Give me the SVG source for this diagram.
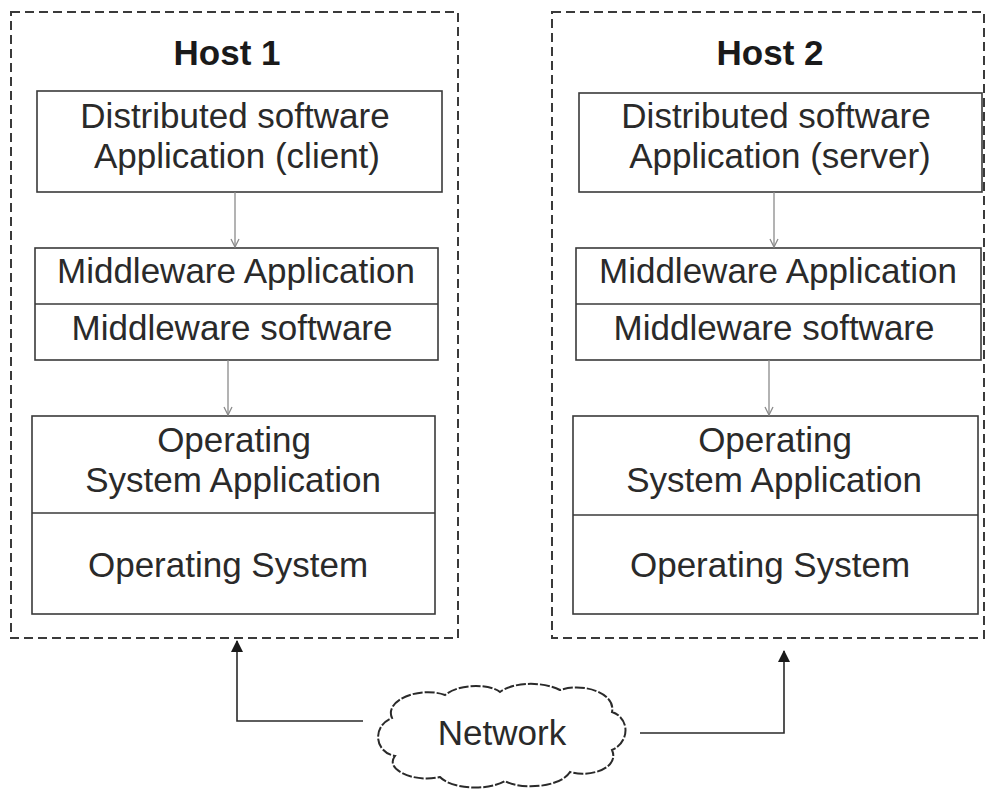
<svg xmlns="http://www.w3.org/2000/svg" width="991" height="789" viewBox="0 0 991 789">
<defs>
<style>
.host{fill:none;stroke:#3a3a3a;stroke-width:2;stroke-dasharray:9 5}
.box{fill:#fff;stroke:#3a3a3a;stroke-width:1.6}
.div{stroke:#3a3a3a;stroke-width:1.6}
.t{font-family:"Liberation Sans",Arial,sans-serif;font-size:35px;fill:#2a2a2a;text-anchor:middle}
.h{font-weight:bold;fill:#1a1a1a}
.inner{fill:none;stroke:#8a8a8a;stroke-width:1.3}
.net{fill:none;stroke:#2a2a2a;stroke-width:1.6}
.cloud{fill:#fff;stroke:#2a2a2a;stroke-width:2;stroke-dasharray:10 2}
</style>
<marker id="open" markerWidth="10" markerHeight="10" refX="9" refY="5" orient="auto" markerUnits="userSpaceOnUse">
<path d="M1,1 L9,5 L1,9" fill="none" stroke="#8a8a8a" stroke-width="1.3"/>
</marker>
<marker id="solid" markerWidth="12" markerHeight="12" refX="11" refY="6" orient="auto" markerUnits="userSpaceOnUse">
<path d="M0,0 L12,6 L0,12 Z" fill="#1a1a1a"/>
</marker>
</defs>
<rect width="991" height="789" fill="#fff"/>

<g id="host1">
<rect class="host" x="11" y="12" width="447" height="626"/>
<text class="t h" x="227" y="65">Host 1</text>
</g>
<g id="host2">
<rect class="host" x="552" y="12" width="432" height="626"/>
<text class="t h" x="770" y="65">Host 2</text>
</g>

<g id="client-app">
<rect class="box" x="37" y="91" width="405" height="101"/>
<text class="t" x="235" y="128">Distributed software</text>
<text class="t" x="237" y="168">Application (client)</text>
</g>
<g id="middleware1">
<rect class="box" x="35" y="248" width="403" height="112"/>
<line class="div" x1="35" y1="304" x2="438" y2="304"/>
<text class="t" x="236" y="283">Middleware Application</text>
<text class="t" x="232" y="340">Middleware software</text>
</g>
<g id="os1">
<rect class="box" x="32" y="416" width="403" height="198"/>
<line class="div" x1="32" y1="513" x2="435" y2="513"/>
<text class="t" x="234" y="452">Operating</text>
<text class="t" x="233" y="492">System Application</text>
<text class="t" x="228" y="577">Operating System</text>
</g>

<g id="server-app">
<rect class="box" x="579" y="93" width="403" height="99"/>
<text class="t" x="776" y="128">Distributed software</text>
<text class="t" x="780" y="168">Application (server)</text>
</g>
<g id="middleware2">
<rect class="box" x="576" y="248" width="405" height="112"/>
<line class="div" x1="576" y1="304" x2="981" y2="304"/>
<text class="t" x="778" y="283">Middleware Application</text>
<text class="t" x="774" y="340">Middleware software</text>
</g>
<g id="os2">
<rect class="box" x="573" y="416" width="405" height="198"/>
<line class="div" x1="573" y1="515" x2="978" y2="515"/>
<text class="t" x="775" y="452">Operating</text>
<text class="t" x="774" y="492">System Application</text>
<text class="t" x="770" y="577">Operating System</text>
</g>

<g id="network">
<path class="cloud" d="M392,718 C384,700 420,686 445,695 C460,683 490,684 500,692 C515,681 545,682 560,690 C585,682 616,694 612,712 C630,718 630,742 612,750 C620,768 590,778 570,772 C560,788 520,790 505,781 C485,792 450,788 440,777 C415,783 384,770 395,756 C374,752 372,726 392,718 Z"/>
<text class="t" x="502" y="745">Network</text>
</g>

<g id="connectors">
<line class="inner" x1="235" y1="192" x2="235" y2="247" marker-end="url(#open)"/>
<line class="inner" x1="228" y1="360" x2="228" y2="415" marker-end="url(#open)"/>
<line class="inner" x1="774" y1="192" x2="774" y2="247" marker-end="url(#open)"/>
<line class="inner" x1="769" y1="360" x2="769" y2="415" marker-end="url(#open)"/>
<polyline class="net" points="363,721 237,721 237,641" marker-end="url(#solid)"/>
<polyline class="net" points="640,733 784,733 784,651" marker-end="url(#solid)"/>
</g>
</svg>
